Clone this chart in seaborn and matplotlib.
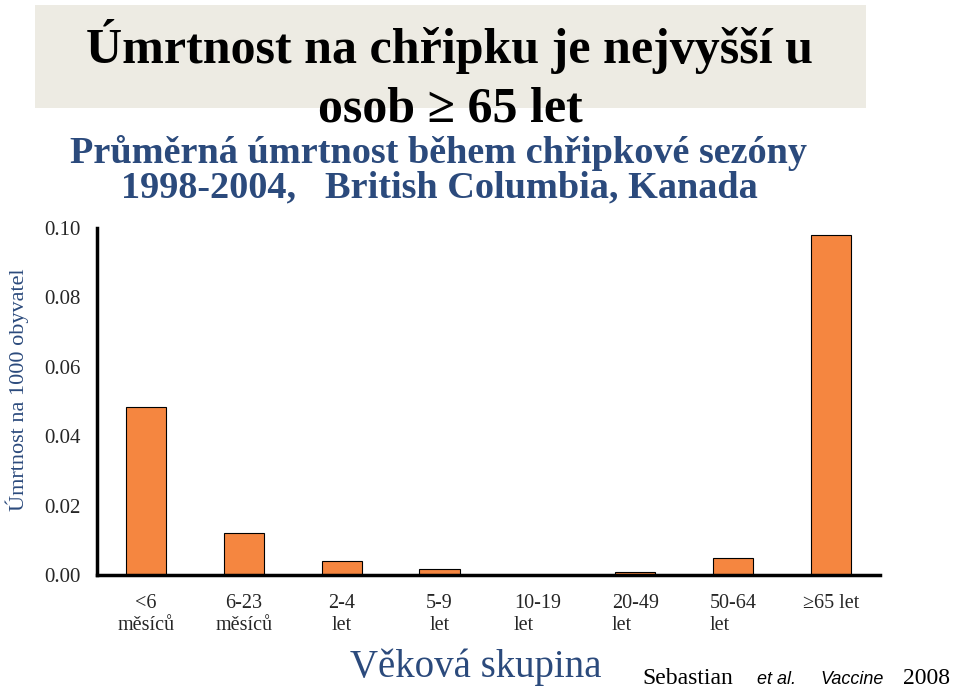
import matplotlib
matplotlib.use("Agg")
import matplotlib.pyplot as plt
import seaborn as sns
import pandas as pd
from matplotlib.patches import Rectangle

categories = ["<6\nměsíců", "6-23\nměsíců", "2-4\nlet", "5-9\nlet", "10-19\nlet", "20-49\nlet", "50-64\nlet", "≥65 let"]
values = [0.0484, 0.0121, 0.0040, 0.0017, 0.0001, 0.0009, 0.0049, 0.0979]
yticks = [0.00, 0.02, 0.04, 0.06, 0.08, 0.10]

sns.set_theme(style="white")
plt.rcParams["font.family"] = ["Liberation Serif", "DejaVu Serif"]

blue = "#2B4A7C"
orange = "#F58640"

fig = plt.figure(figsize=(9.6, 6.94), dpi=100)
ax = fig.add_axes([97/960, 1-575/694, (880-97)/960, (575-228)/694])

df = pd.DataFrame({"cat": categories, "val": values})
sns.barplot(data=df, x="cat", y="val", color=orange, width=0.41,
            edgecolor="black", linewidth=0.8, saturation=1, ax=ax)

ax.set_ylim(0, 0.10)
ax.set_xlim(-0.5, len(categories) - 0.5)
ax.set_yticks(yticks)
ax.set_yticklabels([f"{v:.2f}" for v in yticks], fontsize=15)
ax.tick_params(axis="y", length=0, pad=12)
ax.tick_params(axis="x", length=0, pad=14, labelsize=14.5)
for i, lab in enumerate(ax.get_xticklabels()):
    if i in (4, 5, 6):
        lab.set_multialignment("left")
ax.set_xlabel("")
ax.set_ylabel("")
for s in ["top", "right"]:
    ax.spines[s].set_visible(False)
for s in ["left", "bottom"]:
    ax.spines[s].set_color("black")
    ax.spines[s].set_linewidth(2.5)

# title box
fig.patches.append(Rectangle((35/960, 1-108/694), (866-35)/960, 103/694,
                             transform=fig.transFigure, facecolor="#EDEBE3",
                             edgecolor="none", zorder=0))
fig.text(450/960, 1-47/694, "Úmrtnost na chřipku je nejvyšší u", ha="center", va="center",
         fontsize=36, fontweight="bold", color="black")
fig.text(450/960, 1-110/694, "osob ≥ 65 let", ha="center", va="center",
         fontsize=36, fontweight="bold", color="black")
fig.text(438/960, 1-153/694, "Průměrná úmrtnost během chřipkové sezóny", ha="center", va="center",
         fontsize=27.5, fontweight="bold", color=blue)
fig.text(439/960, 1-188/694, "1998-2004,   British Columbia, Kanada", ha="center", va="center",
         fontsize=27.5, fontweight="bold", color=blue)

fig.text(17/960, 1-390/694, "Úmrtnost na 1000 obyvatel", rotation=90, ha="center", va="center",
         fontsize=16, color=blue)
fig.text(476/960, 1-667/694, "Věková skupina", ha="center", va="center",
         fontsize=28, color=blue)
fig.text(642/960, 1-679/694, "Sebastian", ha="left", va="center", fontsize=17, color="black")
fig.text(757/960, 1-679/694, "et al.", ha="left", va="center", fontsize=13, style="italic",
         family="Liberation Sans", color="black")
fig.text(820/960, 1-679/694, "Vaccine", ha="left", va="center", fontsize=13, style="italic",
         family="Liberation Sans", color="black")
fig.text(903/960, 1-679/694, "2008", ha="left", va="center", fontsize=17, color="black")

fig.savefig("out.png", dpi=100)
